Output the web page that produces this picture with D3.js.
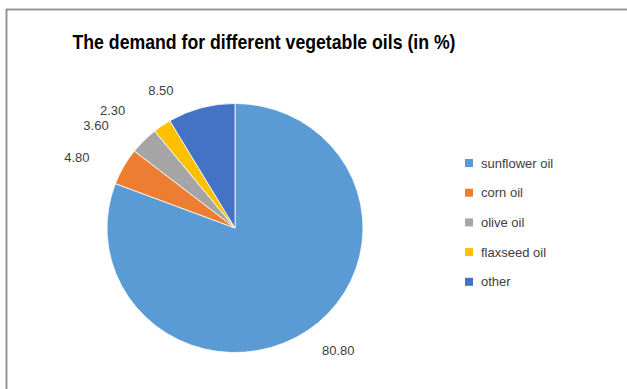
<!DOCTYPE html>
<html>
<head>
<meta charset="utf-8">
<script src="https://cdn.jsdelivr.net/npm/d3@7"></script>
<style>
  html, body { margin: 0; padding: 0; background: #fff; }
  svg { display: block; font-family: "Liberation Sans", Arial, sans-serif; }
</style>
</head>
<body>
<svg id="chart" width="627" height="389"></svg>
<script>
// Demand shares for vegetable oils (%)
const categories = ["sunflower oil", "corn oil", "olive oil", "flaxseed oil", "other"];
const values = [80.80, 4.80, 3.60, 2.30, 8.50];
const colors = ["#5B9BD5", "#ED7D31", "#A5A5A5", "#FFC000", "#4472C4"];
const title = "The demand for different vegetable oils (in %)";

// Data label placement: angular shift (deg) and radius from the pie centre
const labelShift = [-5.6, -5.6, -8.1, -11.3, -13.1];
const labelRadius = [160, 173, 173, 170, 156];

const W = 627, H = 389;
const cx = 235, cy = 228, R = 128, squashY = 0.973;

const svg = d3.select("#chart");

// chart frame
svg.append("rect")
  .attr("x", 6.5).attr("y", 9.5)
  .attr("width", W + 10).attr("height", H + 10)
  .attr("fill", "#fff")
  .attr("stroke", "#8c8c8c")
  .attr("stroke-width", 1.8);

// title
svg.append("text")
  .attr("x", 264).attr("y", 49)
  .attr("text-anchor", "middle")
  .attr("font-weight", "bold")
  .attr("font-size", 21)
  .attr("fill", "#000")
  .attr("textLength", 383)
  .attr("lengthAdjust", "spacingAndGlyphs")
  .text(title);

const data = categories.map((c, i) => ({ name: c, value: values[i], color: colors[i], i }));

const pie = d3.pie().sort(null).value(d => d.value);
const arcs = pie(data);
const arc = d3.arc().innerRadius(0).outerRadius(R);

const g = svg.append("g").attr("transform", `translate(${cx},${cy}) scale(1,${squashY})`);

g.selectAll("path.slice")
  .data(arcs)
  .join("path")
  .attr("class", "slice")
  .attr("d", arc)
  .attr("fill", d => d.data.color)
  .attr("stroke", "#fff")
  .attr("stroke-width", 0.8);

// data labels
const lg = svg.append("g").attr("transform", `translate(${cx},${cy})`);
lg.selectAll("text.val")
  .data(arcs)
  .join("text")
  .attr("class", "val")
  .attr("transform", d => {
    const a = (d.startAngle + d.endAngle) / 2 + labelShift[d.data.i] * Math.PI / 180;
    const r = labelRadius[d.data.i];
    return `translate(${r * Math.sin(a)},${-r * Math.cos(a)})`;
  })
  .attr("text-anchor", "middle")
  .attr("dy", "0.35em")
  .attr("font-size", 13)
  .attr("fill", "#404040")
  .text(d => d3.format(".2f")(d.data.value));

// legend
const legend = svg.append("g").attr("transform", "translate(465,163)");
const rowH = 29.7;
const item = legend.selectAll("g.item")
  .data(data)
  .join("g")
  .attr("class", "item")
  .attr("transform", (d, i) => `translate(0,${i * rowH})`);

item.append("rect")
  .attr("x", 0).attr("y", -4)
  .attr("width", 8).attr("height", 8)
  .attr("fill", d => d.color);

item.append("text")
  .attr("x", 16).attr("y", 0)
  .attr("dy", "0.35em")
  .attr("font-size", 13)
  .attr("fill", "#404040")
  .text(d => d.name);
</script>
</body>
</html>
